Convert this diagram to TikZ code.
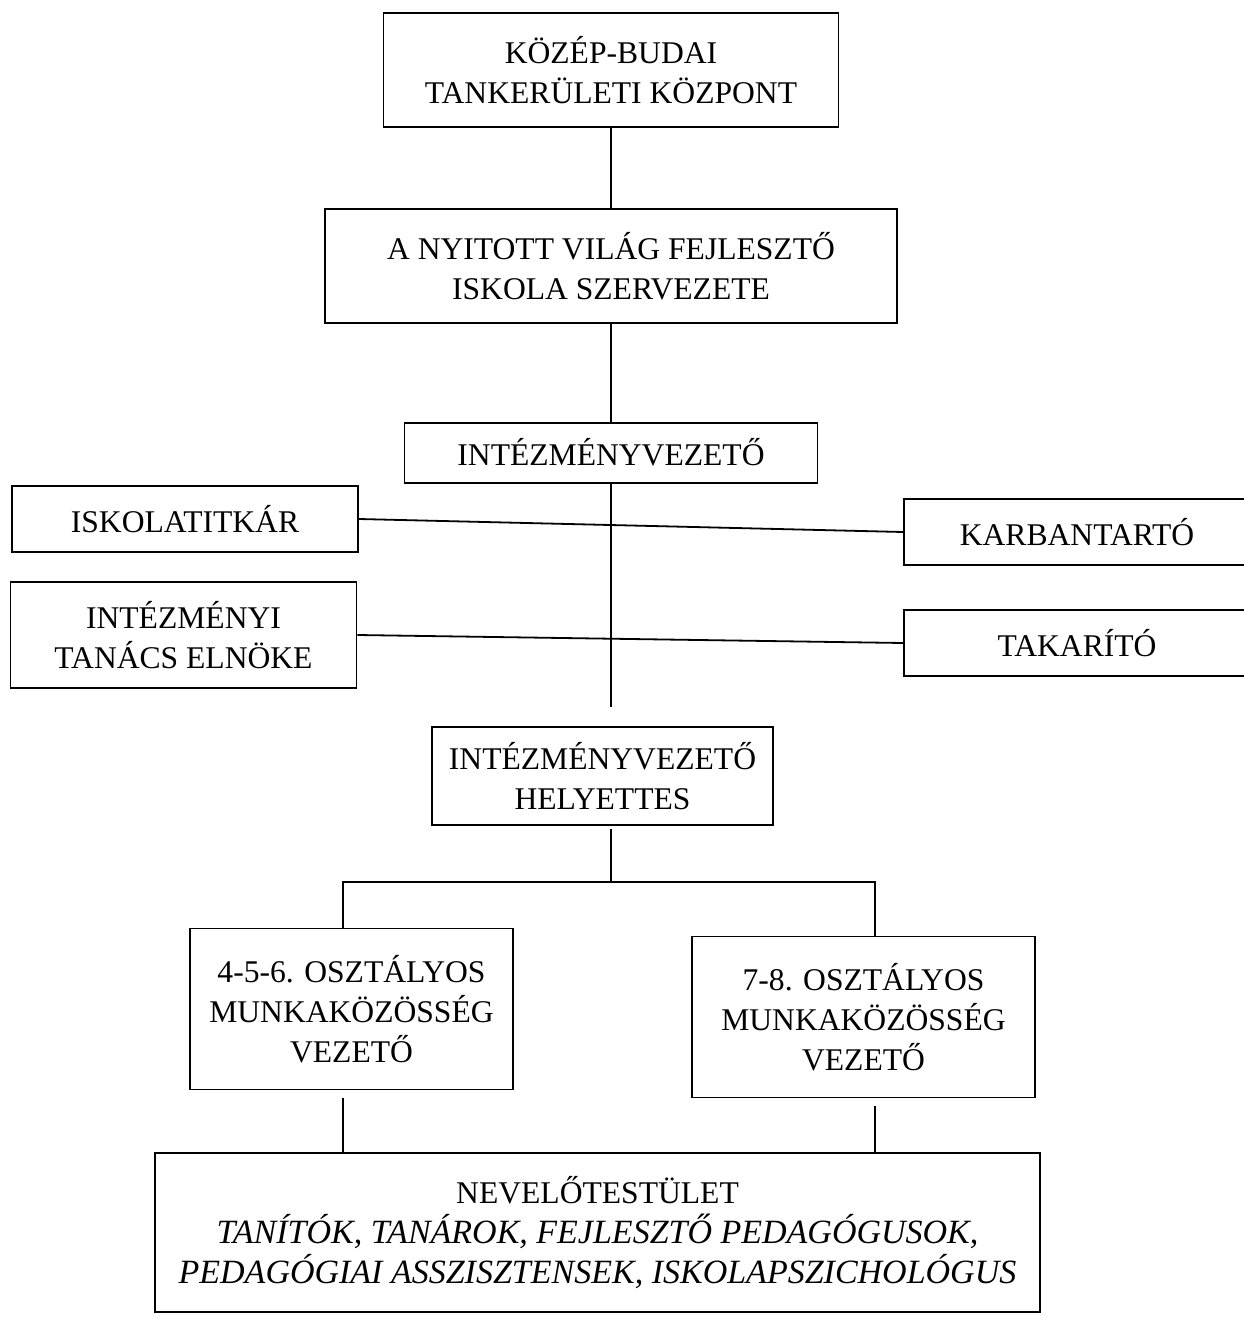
\documentclass[tikz,border=0pt]{standalone}
\usepackage{fontspec}
\setmainfont{Liberation Serif}
\usetikzlibrary{positioning}
\newcommand\staffit{\fontsize{17}{20}\selectfont\itshape}

\begin{document}
\begin{tikzpicture}[
      x=0.5pt, y=-0.5pt,
      font=\fontsize{15.8}{20}\selectfont,
      box/.style={draw, line width=0.9pt, align=center, inner sep=0pt},
      wide/.style={box, minimum width=227.5pt, minimum height=57pt},
      side/.style={box, minimum width=173pt, minimum height=33pt},
      unit/.style={box, minimum width=166pt, minimum height=80.5pt},
      link/.style={line width=0.9pt},
    ]
    \useasboundingbox (0,0) rectangle (1243,1321);
    % main column
    \node[wide] (kozpont) at (611,70) {KÖZÉP-BUDAI\\TANKERÜLETI KÖZPONT};
    \node[wide, minimum width=286pt, below=40pt of kozpont.south, anchor=north] (iskola)
      {A NYITOTT VILÁG FEJLESZTŐ\\ISKOLA SZERVEZETE};
    \node[box, minimum width=206.5pt, minimum height=30pt, below=49pt of iskola.south, anchor=north] (vezeto)
      {INTÉZMÉNYVEZETŐ};
    \node[box, minimum width=170.5pt, minimum height=49pt] (helyettes) at (602.5,776)
      {INTÉZMÉNYVEZETŐ\\HELYETTES};
    % side boxes
    \node[side] (titkar) at (185,519) {ISKOLATITKÁR};
    \node[side, minimum height=53pt] (tanacs) at (183.5,635) {INTÉZMÉNYI\\TANÁCS ELNÖKE};
    \node[side] (karban) at (1077,532) {KARBANTARTÓ};
    \node[side] (takarito) at (1077,643) {TAKARÍTÓ};
    % work groups and staff
    \node[unit, minimum width=161.5pt] (also) at (351.5,1009) {4-5-6. OSZTÁLYOS\\MUNKAKÖZÖSSÉG\\VEZETŐ};
    \node[unit, minimum width=171.5pt] (felso) at (863.5,1017) {7-8. OSZTÁLYOS\\MUNKAKÖZÖSSÉG\\VEZETŐ};
    \node[box, minimum width=442.5pt, minimum height=79.5pt] (testulet) at (597.5,1232.5)
      {NEVELŐTESTÜLET\\{\staffit TANÍTÓK, TANÁROK, FEJLESZTŐ PEDAGÓGUSOK,}\\
       {\staffit PEDAGÓGIAI ASSZISZTENSEK, ISKOLAPSZICHOLÓGUS}};
    \coordinate (elagazas) at (611,882);
    \coordinate (bal) at (343,882);
    \coordinate (jobb) at (875,882);
    % connectors
    \draw[link] (kozpont) -- (iskola);
    \draw[link] (iskola) -- (vezeto);
    \draw[link] (vezeto.south) -- ([yshift=9.5pt]vezeto.south |- helyettes.north);
    \draw[link] (titkar.east) -- (karban.west);
    \draw[link] (tanacs.east) -- (takarito.west);
    \draw[link] ([yshift=-1.5pt]helyettes.south -| elagazas) -- (elagazas);
    \draw[link] (bal |- also.north) -- (bal) -- (jobb) -- (jobb |- felso.north);
    \draw[link] ([yshift=-4pt]bal |- also.south) -- (bal |- testulet.north);
    \draw[link] ([yshift=-4pt]jobb |- felso.south) -- (jobb |- testulet.north);
  \end{tikzpicture}
\end{document}
